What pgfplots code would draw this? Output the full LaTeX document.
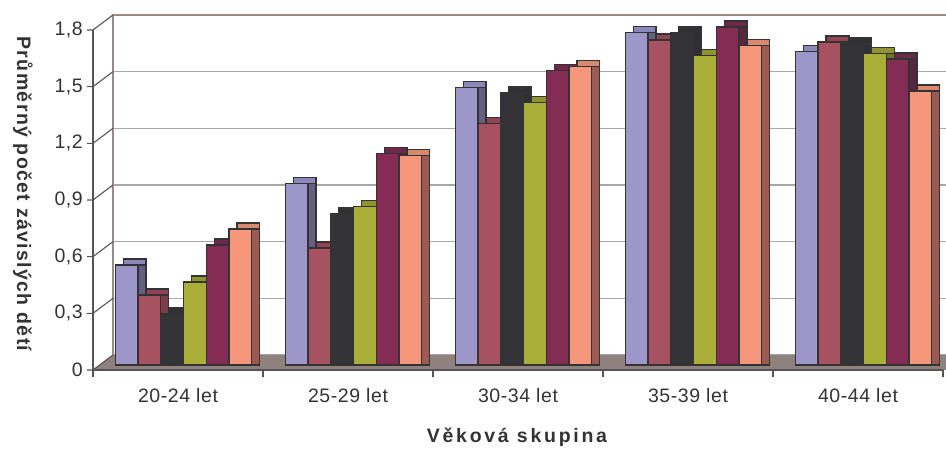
\documentclass[border=0pt]{standalone}
\usepackage{pgfplots}
\usepackage{pgfplotstable}
\pgfplotsset{compat=1.18}
\usepackage{fontspec}
\setmainfont{Liberation Sans}[LetterSpace=3]

\definecolor{cA}{HTML}{9C97C8}\definecolor{sA}{HTML}{655F82}\definecolor{tA}{HTML}{8C87BA}
\definecolor{cB}{HTML}{A65260}\definecolor{sB}{HTML}{7A3D48}\definecolor{tB}{HTML}{8F4553}
\definecolor{cC}{HTML}{333338}\definecolor{sC}{HTML}{2E2E33}\definecolor{tC}{HTML}{303035}
\definecolor{cD}{HTML}{A8AE38}\definecolor{sD}{HTML}{6F7426}\definecolor{tD}{HTML}{8E9430}
\definecolor{cE}{HTML}{852C55}\definecolor{sE}{HTML}{5A2540}\definecolor{tE}{HTML}{6F274A}
\definecolor{cF}{HTML}{F4977A}\definecolor{sF}{HTML}{9C5B52}\definecolor{tF}{HTML}{D88970}
\definecolor{floorc}{HTML}{8F817D}
\definecolor{framec}{HTML}{9A8B86}
\definecolor{gridc}{HTML}{A8A8A8}
\definecolor{axc}{HTML}{555555}
\definecolor{outl}{HTML}{333333}
\definecolor{txt}{HTML}{333333}

\pgfplotstableread{
x a b c d e f
0 0.53 0.37 0.27 0.44 0.635 0.72
1 0.96 0.62 0.80 0.84 1.12 1.11
2 1.47 1.28 1.44 1.39 1.56 1.58
3 1.76 1.72 1.76 1.64 1.79 1.69
4 1.66 1.71 1.70 1.65 1.62 1.45
}\datatable

\pgfplotsset{
  front/.style 2 args={ybar, bar width=22.7pt, bar shift=#2, fill=#1, draw=outl, line width=1.4pt, xshift=-14.5pt, yshift=-10pt},
  topf/.style 2 args={ybar, bar width=22.7pt, bar shift=#2, fill=#1, draw=outl, line width=1.4pt, xshift=-6.5pt, yshift=-4pt},
  side/.style 2 args={ybar, bar width=22.7pt, bar shift=#2, fill=#1, draw=outl, line width=1.4pt, xshift=-6.5pt, yshift=-10pt},
}

\begin{document}
\begin{tikzpicture}
\path[use as bounding box] (0,0) rectangle (946pt,449pt);
\clip (0,0) rectangle (946pt,449pt);
\begin{axis}[
  at={(113pt,94pt)}, anchor=south west, scale only axis,
  width=850pt, height=340pt,
  xmin=-0.5, xmax=4.5, ymin=0, ymax=1.8,
  clip=false,
  axis line style={draw=none},
  major tick length=0pt,
  xtick={0,1,2,3,4},
  xticklabels={20-24 let,25-29 let,30-34 let,35-39 let,40-44 let},
  ytick={0,0.3,0.6,0.9,1.2,1.5,1.8},
  ymajorgrids, grid style={draw=gridc, line width=1.4pt},
  yticklabel style={anchor=east, inner sep=0pt, xshift=-30pt, yshift=-15pt},
  xticklabel style={anchor=base, inner sep=0pt, xshift=-20pt, yshift=-48pt},
  ticklabel style={font=\fontsize{19.5}{22}\selectfont, text=txt},
  /pgf/number format/use comma,
  /pgf/number format/fixed,
  /pgf/number format/precision=1,
  /pgf/number format/assume math mode=true,
]
% back wall frame
\draw[framec, line width=1.5pt] (axis cs:-0.5,0) -- (axis cs:-0.5,1.8) -- (axis cs:4.5,1.8);
% floor
\fill[floorc] (axis cs:-0.5,0) -- (axis cs:4.6,0) -- ([shift={(-20pt,-15pt)}]axis cs:4.6,0) -- ([shift={(-20pt,-15pt)}]axis cs:-0.5,0) -- cycle;
\draw[axc, line width=1.5pt] ([shift={(-20pt,-15pt)}]axis cs:-0.5,0) -- ([shift={(-20pt,-15pt)}]axis cs:4.5,0);
% front y axis and connectors
\draw[axc, line width=1.3pt] ([shift={(-20pt,-15pt)}]axis cs:-0.5,0) -- ([shift={(-20pt,-15pt)}]axis cs:-0.5,1.8);
\pgfplotsinvokeforeach{0,0.3,0.6,0.9,1.2,1.5,1.8}{
  \draw[axc, line width=1.1pt] ([shift={(-26pt,-15pt)}]axis cs:-0.5,#1) -- ([shift={(-20pt,-15pt)}]axis cs:-0.5,#1) -- (axis cs:-0.5,#1);
}
\pgfplotsinvokeforeach{-0.5,0.5,1.5,2.5,3.5,4.5}{
  \draw[axc, line width=1.1pt] ([shift={(-20pt,-15pt)}]axis cs:#1,0) -- ([shift={(-20pt,-22pt)}]axis cs:#1,0);
}
% bars
\addplot[topf={tA}{-56.75pt}] table[x=x,y=a] {\datatable};
\addplot[side={sA}{-56.75pt}] table[x=x,y=a] {\datatable};
\addplot[front={cA}{-56.75pt}] table[x=x,y=a] {\datatable};
\addplot[topf={tB}{-34.05pt}] table[x=x,y=b] {\datatable};
\addplot[side={sB}{-34.05pt}] table[x=x,y=b] {\datatable};
\addplot[front={cB}{-34.05pt}] table[x=x,y=b] {\datatable};
\addplot[topf={tC}{-11.35pt}] table[x=x,y=c] {\datatable};
\addplot[side={sC}{-11.35pt}] table[x=x,y=c] {\datatable};
\addplot[front={cC}{-11.35pt}] table[x=x,y=c] {\datatable};
\addplot[topf={tD}{11.35pt}] table[x=x,y=d] {\datatable};
\addplot[side={sD}{11.35pt}] table[x=x,y=d] {\datatable};
\addplot[front={cD}{11.35pt}] table[x=x,y=d] {\datatable};
\addplot[topf={tE}{34.05pt}] table[x=x,y=e] {\datatable};
\addplot[side={sE}{34.05pt}] table[x=x,y=e] {\datatable};
\addplot[front={cE}{34.05pt}] table[x=x,y=e] {\datatable};
\addplot[topf={tF}{56.75pt}] table[x=x,y=f] {\datatable};
\addplot[side={sF}{56.75pt}] table[x=x,y=f] {\datatable};
\addplot[front={cF}{56.75pt}] table[x=x,y=f] {\datatable};
\end{axis}
\node[anchor=base, text=txt, font=\bfseries\fontsize{19.5}{22}\selectfont\addfontfeatures{LetterSpace=14}] at (517pt,6pt) {Věková skupina};
\node[rotate=-90, text=txt, font=\bfseries\fontsize{19.5}{22}\selectfont\addfontfeatures{LetterSpace=7}] at (23pt,255pt) {Průměrný počet závislých dětí};
\end{tikzpicture}
\end{document}
